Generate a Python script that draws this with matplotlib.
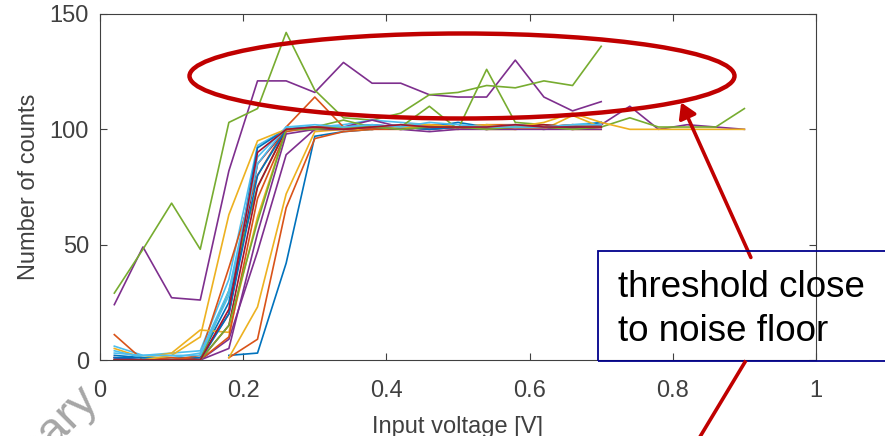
import numpy as np
import matplotlib
matplotlib.use("Agg")
import matplotlib.pyplot as plt
from matplotlib.patches import Ellipse, Rectangle, FancyArrowPatch
from matplotlib.lines import Line2D

plt.rcParams['font.family'] = ['Liberation Sans', 'DejaVu Sans']

nan = np.nan

# input voltage steps [V]
voltage = [0.02, 0.06, 0.10, 0.14, 0.18, 0.22, 0.26, 0.30, 0.34, 0.38, 0.42, 0.46,
           0.50, 0.54, 0.58, 0.62, 0.66, 0.70, 0.74, 0.78, 0.82, 0.86, 0.90]

# counts per channel (MATLAB colour order)
blue_1 = [nan, nan, nan, nan, 2, 3, 42, 97, 99, 100, 101, 100, 101, 100, 101, 100, 101, 101]
orange_1 = [nan, nan, nan, nan, 1, 9, 66, 96, 99, 100, 100, 101, 100, 101, 100, 101, 102, 101]
yellow_1 = [nan, nan, nan, nan, 1, 23, 72, 99, 100, 100, 101, 100, 101, 100, 100, 101, 100, 100]
purple_1 = [24, 49, 27, 26, 82, 121, 121, 116, 129, 120, 120, 115, 114, 114, 130, 114, 108, 112]
green_1 = [29, 48, 68, 48, 103, 109, 142, 117, 105, 104, 107, 115, 116, 119, 118, 121, 119, 136]
cyan_1 = [6, 2, 3, 4, 35, 93, 100, 101, 102, 104, 103, 102, 101, 102, 101, 101, 102, 103]
red_1 = [1, 0, 0, 1, 20, 85, 100, 100, 101, 100, 101, 102, 101, 100, 101, 101, 100, 101]

blue_2 = [2, 1, 1, 1, 25, 92, 100, 101, 101, 102, 101, 101, 103, 101, 102, 101, 101, 103]
orange_2 = [11, 0, 0, 2, 40, 80, 101, 114, 101, 101, 101, 102, 101, 102, 102, 101, 101, 102]
yellow_2 = [5, 1, 3, 13, 12, 62, 100, 101, 101, 101, 102, 102, 101, 102, 101, 100, 106, 101]
purple_2 = [1, 0, 0, 0, 9, 47, 89, 100, 101, 104, 101, 100, 101, 101, 101, 101, 101, 102,
            110, 100, 102, 101, 100]
green_2 = [0, 0, 0, 0, 30, 75, 100, 101, 104, 101, 101, 110, 100, 126, 103, 102, 101, 101,
           105, 101, 101, 101, 109]
cyan_2 = [4, 1, 1, 3, 30, 88, 101, 101, 101, 101, 102, 101, 101, 101, 102, 101, 101, 101]
red_2 = [0, 0, 0, 0, 15, 75, 100, 100, 100, 101, 100, 101, 101, 101, 101, 102, 101, 102]

blue_3 = [1, 1, 0, 0, 20, 80, 100, 101, 101, 101, 101, 100, 101, 101, 101, 101, 101, 101]
orange_3 = [0, 0, 1, 0, 10, 70, 99, 101, 101, 100, 101, 101, 101, 101, 101, 101, 102, 101]
yellow_3 = [0, 0, 2, 10, 63, 95, 100, 100, 100, 101, 101, 101, 101, 101, 101, 103, 107, 103,
            100, 100, 100, 100, 100]
purple_3 = [0, 0, 0, 0, 5, 55, 98, 100, 100, 101, 100, 99, 100, 100, 100, 100, 100, 100]
green_3 = [0, 0, 0, 0, 15, 60, 100, 100, 101, 101, 100, 101, 101, 100, 101, 101, 100, 101]
cyan_3 = [3, 2, 2, 2, 28, 85, 101, 102, 101, 102, 101, 103, 102, 101, 101, 101, 102, 102]
red_3 = [0, 0, 0, 0, 22, 90, 100, 101, 100, 101, 102, 101, 101, 101, 102, 101, 101, 101]

series = [blue_1, orange_1, yellow_1, purple_1, green_1, cyan_1, red_1,
          blue_2, orange_2, yellow_2, purple_2, green_2, cyan_2, red_2,
          blue_3, orange_3, yellow_3, purple_3, green_3, cyan_3, red_3]
colors = ['#0072BD', '#D95319', '#EDB120', '#7E2F8E', '#77AC30', '#4DBEEE', '#A2142F']

x_ticks = [0, 0.2, 0.4, 0.6, 0.8, 1]
x_tick_labels = ['0', '0.2', '0.4', '0.6', '0.8', '1']
y_ticks = [0, 50, 100, 150]

W, H = 885, 436
fig = plt.figure(figsize=(W / 100, H / 100), dpi=100)
ax = fig.add_axes([100 / W, 76 / H, 716 / W, 346 / H])

for i, counts in enumerate(series):
    ax.plot(voltage[:len(counts)], counts, color=colors[i % 7], lw=1.2)

axis_gray = '#404040'
ax.set_xlim(0, 1)
ax.set_ylim(0, 150)
ax.set_xticks(x_ticks)
ax.set_xticklabels(x_tick_labels)
ax.set_yticks(y_ticks)
ax.tick_params(direction='in', length=5, width=0.8, colors=axis_gray, labelsize=17,
               top=True, right=True)
ax.tick_params(axis='x', pad=14.5)
ax.tick_params(axis='y', pad=8)
for sp in ax.spines.values():
    sp.set_color(axis_gray)
    sp.set_linewidth(0.8)
ax.set_xlabel('Input voltage [V]', fontsize=17, color=axis_gray, labelpad=10)
ax.set_ylabel('Number of counts', fontsize=17, color=axis_gray, labelpad=7)


def fx(px):
    return px / W


def fy(py):
    return 1 - py / H


# red ellipse around the noisy channels
fig.add_artist(Ellipse((fx(462), fy(76)), 545 / W, 85 / H, transform=fig.transFigure,
                       fill=False, edgecolor='#C00000', lw=3.2))

# arrow from the call-out box to the ellipse
fig.add_artist(FancyArrowPatch(
    (fx(752), fy(260)), (fx(680), fy(100)), transform=fig.transFigure,
    arrowstyle='-|>,head_length=9,head_width=5.5', color='#C00000', lw=2.6))
fig.add_artist(Line2D([fx(745), fx(680)], [fy(362), fy(470)], transform=fig.transFigure,
                      color='#C00000', lw=2.6))

# call-out box
fig.add_artist(Rectangle((fx(598), fy(361)), 300 / W, 110 / H, transform=fig.transFigure,
                         fill=False, edgecolor='#00008B', lw=1.3))
fig.text(fx(618), fy(297), 'threshold close', fontsize=26.5, color='black',
         ha='left', va='baseline')
fig.text(fx(618), fy(341), 'to noise floor', fontsize=26.5, color='black',
         ha='left', va='baseline')

# watermark, mostly cropped
fig.text(fx(99), fy(400), 'Preliminary', fontsize=34, color='#a6a6a6',
         rotation=45, rotation_mode='anchor', ha='right', va='baseline')

fig.savefig('out.png', dpi=100)
